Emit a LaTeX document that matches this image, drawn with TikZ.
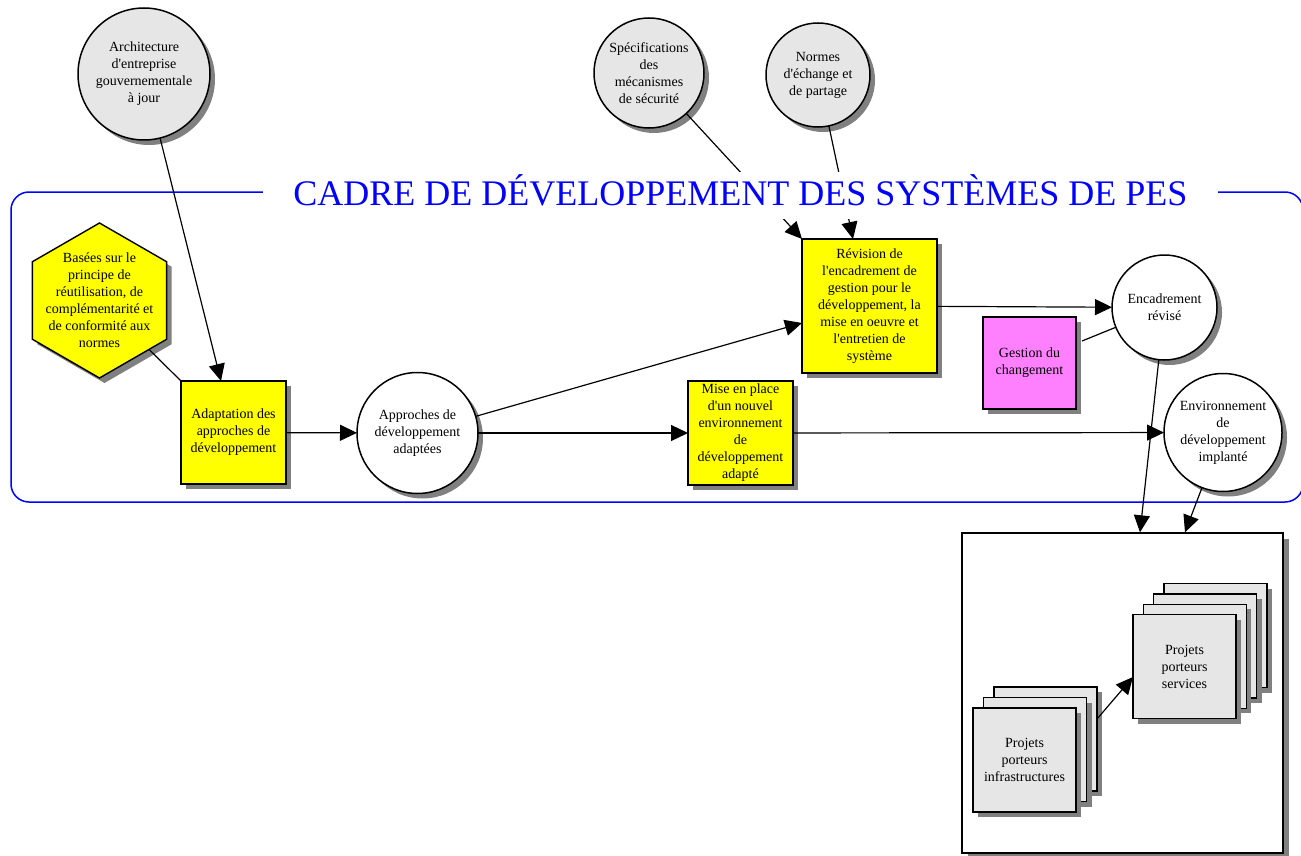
\documentclass[tikz,border=0pt]{standalone}
\usepackage{fontspec}
\setmainfont{Liberation Serif}[Ligatures=TeXOff]
\usetikzlibrary{arrows.meta,shapes.geometric,shadows,calc}

\definecolor{paleg}{RGB}{230,230,230}
\definecolor{shadowgray}{RGB}{128,128,128}
\definecolor{hiyellow}{RGB}{255,255,0}
\definecolor{pinkmag}{RGB}{255,128,255}
\definecolor{frameblue}{RGB}{0,0,255}

\begin{document}
\begin{tikzpicture}[x=1pt,y=-1pt,
  shadefive/.style={drop shadow={shadow xshift=5pt,shadow yshift=-5pt,fill=shadowgray,opacity=1}},
  shadesix/.style={drop shadow={shadow xshift=6pt,shadow yshift=-6pt,fill=shadowgray,opacity=1}},
  txt/.style={font=\fontsize{14}{17}\selectfont, align=center, inner sep=0pt, outer sep=0pt},
  bubble/.style={txt, circle, draw, line width=1.5pt, shadefive},
  graybubble/.style={bubble, fill=paleg},
  whitebubble/.style={bubble, fill=white},
  taskbox/.style={txt, rectangle, draw, line width=1.6pt, fill=hiyellow, shadefive},
  projbox/.style={txt, rectangle, draw, line width=1.4pt, fill=paleg, shadefive,
                  minimum width=103pt, minimum height=104pt},
  arr/.style={-{Triangle[length=17pt,width=16pt]}, line width=1.2pt},
  link/.style={line width=1.2pt}
]
\useasboundingbox (0,0) rectangle (1301,856);
\clip (0,0) rectangle (1301,856);

% framework outline
\draw[frameblue, line width=1.5pt, rounded corners=18pt] (11,192) rectangle (1303,502);

% inputs at the top
\node[graybubble, minimum size=132pt] (arch) at (144,74)
  {Architecture\\d'entreprise\\gouvernementale\\à jour};
\node[graybubble, minimum size=110pt] (spec) at (649,73)
  {Spécifications\\des\\mécanismes\\de sécurité};
\node[graybubble, minimum size=104pt] (normes) at (818,75)
  {Normes\\d'échange et\\de partage};

% principles: the hexagon outline, then its text on top
\node[regular polygon, regular polygon sides=6, shape border rotate=30,
      minimum size=155pt, inner sep=0pt, outer sep=0pt,
      draw, line width=1.4pt, fill=hiyellow, shadefive] (hexa) at (99.5,300.5) {};
\node[txt] (hexatext) at (hexa.center)
  {Basées sur le\\principe de\\réutilisation,  de\\complémentarité et\\de conformité aux\\normes};

% main flow
\node[taskbox, minimum width=105pt, minimum height=103pt] (adapt) at (233.5,432.5)
  {Adaptation des\\approches de\\développement};
\node[whitebubble, minimum size=121pt] (approches) at (417.5,433)
  {Approches de\\développement\\adaptées};
\node[taskbox, minimum width=105pt, minimum height=104pt] (mise) at (740.5,433)
  {Mise en place\\d'un nouvel\\environnement\\de\\développement\\adapté};
\node[taskbox, minimum width=135pt, minimum height=134pt] (revision) at (869.5,306)
  {Révision de\\l'encadrement de\\gestion pour le\\développement, la\\mise en oeuvre et\\l'entretien de\\système};
\node[txt, rectangle, draw, line width=1.6pt, fill=pinkmag, shadefive,
      minimum width=93pt, minimum height=92pt] (gestion) at (1029.5,363)
  {Gestion du\\changement};
\node[whitebubble, minimum size=105pt] (encad) at (1164.5,307.5)
  {Encadrement\\révisé};
\node[whitebubble, minimum size=118pt] (envt) at (1223,432.5)
  {Environnement\\de\\développement\\implanté};

% project portfolio
\node[rectangle, draw, line width=1.4pt, fill=white, shadesix,
      minimum width=321pt, minimum height=320pt] (bigbox) at (1122.5,693) {};
\node[projbox] (infraA) at (1045.5,739) {};
\node[projbox] (infraB) at (1035,749.5) {};
\node[projbox] (infra) at (1024.5,760) {Projets\\porteurs\\infrastructures};
\node[projbox] (servA) at (1215.4,635.6) {};
\node[projbox] (servB) at (1205.1,645.9) {};
\node[projbox] (servC) at (1194.8,656.2) {};
\node[projbox] (serv) at (1184.5,666.5) {Projets\\porteurs\\services};

% connectors
\draw[arr] (arch) -- ([xshift=-12.5pt]adapt.north);
\draw[link] (hexa) -- (adapt.north west);
\draw[arr] (adapt) -- (approches);
\draw[arr] (approches) -- (mise);
\draw[arr] (approches) -- ([yshift=-17pt]revision.west);
\draw[arr] (mise) -- (envt);
\draw[arr] (revision) -- (encad);
\draw[link] ([xshift=6pt,yshift=22pt]gestion.east) -- (encad);
\draw[arr] (spec) -- (revision.north west);
\draw[arr] (normes) -- ([xshift=-16.5pt]revision.north);
\draw[arr] (encad) -- ([xshift=17.5pt]bigbox.north);
\draw[arr] (envt) -- ([xshift=62.5pt]bigbox.north);
\draw[arr] ([yshift=20pt]infraA.east) -- ([yshift=-10.5pt]serv.west);

% title laid over the top edge of the frame
\node[fill=white, text=frameblue, font=\fontsize{36}{40}\selectfont,
      minimum width=955pt, minimum height=47pt, inner sep=0pt,
      text height=24pt, text depth=5pt] (title) at (740.5,195.5)
  {CADRE DE DÉVELOPPEMENT DES SYSTÈMES DE PES};
\end{tikzpicture}
\end{document}
